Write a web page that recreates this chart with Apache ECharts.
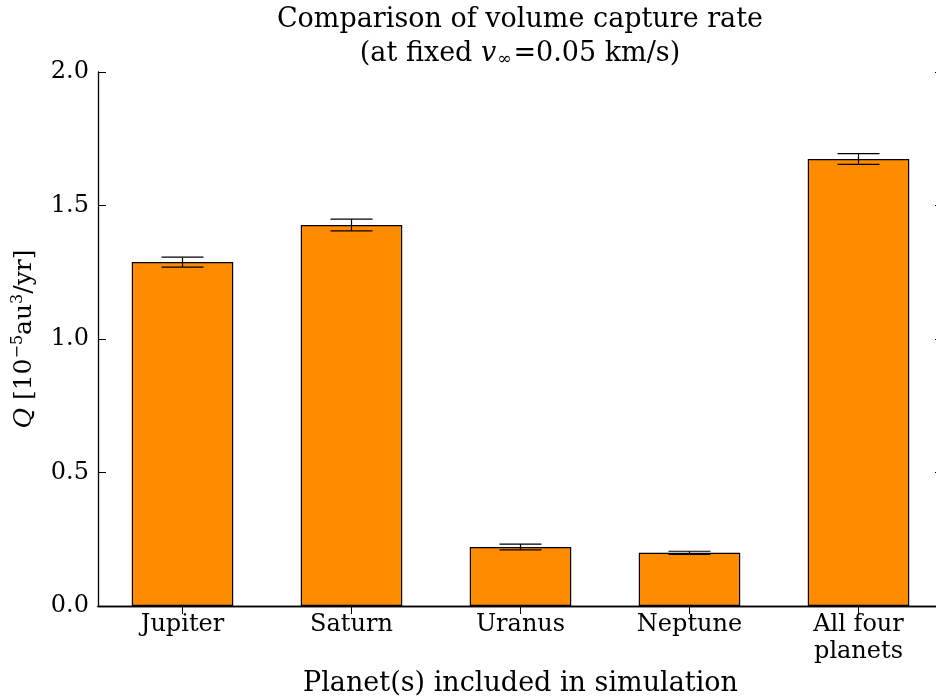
<!DOCTYPE html>
<html>
<head>
<meta charset="utf-8">
<script src="https://cdn.jsdelivr.net/npm/echarts@6/dist/echarts.min.js"></script>
<style>
  html, body { margin: 0; padding: 0; background: #fff; }
  #chart { width: 936px; height: 698px; }
</style>
</head>
<body>
<div id="chart"></div>
<script>
// Volume capture rate Q per simulation setup, in units of 1e-5 au^3/yr
const categories = ['Jupiter', 'Saturn', 'Uranus', 'Neptune', 'All four\nplanets'];
const rates = [1.288, 1.427, 0.221, 0.199, 1.674];
const rateErrors = [0.019, 0.022, 0.011, 0.006, 0.020];
const yTicks = [0.0, 0.5, 1.0, 1.5, 2.0];

const FONT = '"DejaVu Serif", serif';
const errorData = rates.map((v, i) => [i, v - rateErrors[i], v + rateErrors[i]]);

const chart = echarts.init(document.getElementById('chart'), null, { renderer: 'canvas' });

function errorBar(params, api) {
  const x = api.value(0);
  const lo = api.coord([x, api.value(1)]);
  const hi = api.coord([x, api.value(2)]);
  const hw = 21;
  const st = { stroke: '#000', lineWidth: 1.2 };
  return {
    type: 'group',
    children: [
      { type: 'line', shape: { x1: lo[0], y1: lo[1], x2: hi[0], y2: hi[1] }, style: st },
      { type: 'line', shape: { x1: lo[0] - hw, y1: lo[1], x2: lo[0] + hw, y2: lo[1] }, style: st },
      { type: 'line', shape: { x1: hi[0] - hw, y1: hi[1], x2: hi[0] + hw, y2: hi[1] }, style: st }
    ]
  };
}

const axisLine = { show: true, lineStyle: { color: '#000', width: 1.3 } };
const innerTick = { show: true, inside: true, length: 8, lineStyle: { color: '#000', width: 1 } };

chart.setOption({
  animation: false,
  backgroundColor: '#fff',
  title: {
    text: 'Comparison of volume capture rate\n(at fixed {i|v}{sub|∞}=0.05 km/s)',
    left: 515,
    top: -2,
    textAlign: 'center',
    textStyle: {
      fontFamily: FONT,
      fontWeight: 'normal',
      fontSize: 27,
      lineHeight: 34,
      color: '#000',
      rich: {
        i: { fontFamily: FONT, fontStyle: 'italic', fontSize: 27, color: '#000', lineHeight: 34 },
        sub: { fontFamily: FONT, fontSize: 17, color: '#000', lineHeight: 34, padding: [12, 2, 0, 1] }
      }
    }
  },
  grid: { left: 98, top: 72, width: 845, bottom: 92, containLabel: false, outerBoundsMode: 'none' },
  xAxis: [
    {
      type: 'category',
      data: categories,
      position: 'bottom',
      axisLine: axisLine,
      axisTick: Object.assign({ alignWithLabel: true }, innerTick),
      axisLabel: { fontFamily: FONT, fontSize: 24, color: '#000', margin: 5, lineHeight: 27, interval: 0 },
      splitLine: { show: false },
      name: 'Planet(s) included in simulation',
      nameLocation: 'middle',
      nameGap: 64,
      nameTextStyle: { fontFamily: FONT, fontSize: 27, color: '#000' }
    },
    {
      type: 'category',
      data: categories,
      position: 'top',
      axisLine: axisLine,
      axisTick: Object.assign({ alignWithLabel: true }, innerTick),
      axisLabel: { show: false },
      splitLine: { show: false }
    }
  ],
  yAxis: [
    {
      type: 'value',
      min: 0,
      max: 2,
      interval: 0.5,
      position: 'left',
      axisLine: axisLine,
      axisTick: innerTick,
      axisLabel: {
        fontFamily: FONT, fontSize: 24, color: '#000', margin: 9,
        formatter: v => v.toFixed(1)
      },
      splitLine: { show: false },
      name: '{i|Q} [10{sup|−5}au{sup|3}/yr]',
      nameLocation: 'middle',
      nameRotate: 90,
      nameGap: 51,
      nameTextStyle: {
        fontFamily: FONT, fontSize: 25, color: '#000', lineHeight: 30,
        rich: {
          i: { fontFamily: FONT, fontStyle: 'italic', fontSize: 25, color: '#000', lineHeight: 30 },
          sup: { fontFamily: FONT, fontSize: 16, color: '#000', lineHeight: 30, padding: [0, 0, 14, 0] }
        }
      }
    },
    {
      type: 'value',
      min: 0,
      max: 2,
      interval: 0.5,
      position: 'right',
      axisLine: axisLine,
      axisTick: innerTick,
      axisLabel: { show: false },
      splitLine: { show: false }
    }
  ],
  series: [
    {
      type: 'bar',
      data: rates,
      barWidth: '60%',
      itemStyle: { color: '#FF8C00', borderColor: '#000', borderWidth: 1.2 },
      z: 2
    },
    {
      type: 'custom',
      data: errorData,
      renderItem: errorBar,
      encode: { x: 0, y: [1, 2] },
      z: 3
    }
  ]
});
</script>
</body>
</html>
